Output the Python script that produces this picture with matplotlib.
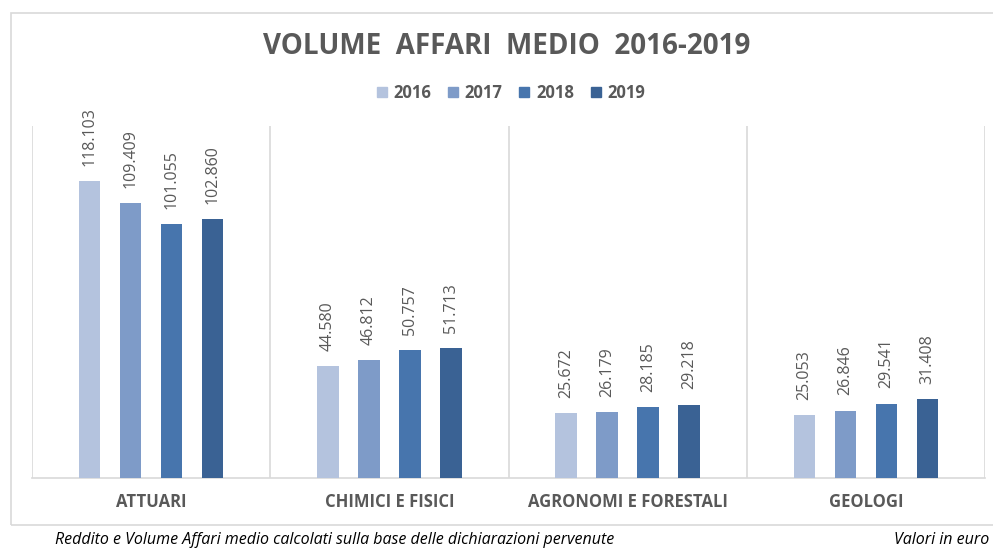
import matplotlib.pyplot as plt
from matplotlib.patches import Patch, Rectangle
import numpy as np

categories = ["ATTUARI", "CHIMICI E FISICI", "AGRONOMI E FORESTALI", "GEOLOGI"]
years = ["2016", "2017", "2018", "2019"]
v2016 = [118103, 44580, 25672, 25053]
v2017 = [109409, 46812, 26179, 26846]
v2018 = [101055, 50757, 28185, 29541]
v2019 = [102860, 51713, 29218, 31408]
series = [v2016, v2017, v2018, v2019]
colors = ["#B4C3DE", "#7E9BC8", "#4775AD", "#3A6294"]

plt.rcParams['font.family'] = ['Open Sans', 'DejaVu Sans']
gray = "#595959"
line = "#D9D9D9"

fig = plt.figure(figsize=(9.93, 5.49), dpi=100)
W, H = 993, 549

# outer chart frame
fig.patches.append(Rectangle((11 / W, 1 - 525 / H), 1.2, (525 - 13) / H,
                             transform=fig.transFigure, fill=False,
                             edgecolor=line, lw=1.2))

ax = fig.add_axes([32 / W, 1 - 478 / H, (985 - 32) / W, (478 - 126) / H])
x = np.arange(len(categories))
step, width = 0.172, 0.09
for i, (vals, c) in enumerate(zip(series, colors)):
    pos = x + (i - 1.5) * step
    ax.bar(pos, vals, width, color=c, zorder=3)
    for p, v in zip(pos, vals):
        ax.annotate(f"{v:,}".replace(",", "."), (p, v), xytext=(0, 11),
                    textcoords="offset points", rotation=90, ha="center",
                    va="bottom", fontsize=11.5, color=gray)

ax.set_xlim(-0.5, 3.5)
ax.set_ylim(0, 140000)
for b in np.arange(-0.5, 4, 1):
    ax.axvline(b, color=line, lw=1.2, zorder=1)
for s in ["top", "left", "right"]:
    ax.spines[s].set_visible(False)
ax.spines["bottom"].set_color(line)
ax.spines["bottom"].set_linewidth(1.2)
ax.set_yticks([])
ax.set_xticks(x)
ax.set_xticklabels(categories, fontsize=12, fontweight="bold", color=gray)
ax.tick_params(axis="x", length=0, pad=11)

fig.text(507 / W, 1 - 46 / H, "VOLUME  AFFARI  MEDIO  2016-2019", ha="center",
         va="center", fontsize=20, fontweight="bold", color=gray)

handles = [Patch(color=c) for c in colors]
fig.legend(handles, years, loc="center", bbox_to_anchor=(511 / W, 1 - 93 / H),
           ncol=4, frameon=False, handlelength=0.6, handleheight=0.6,
           handletextpad=0.4, columnspacing=1.0,
           prop={"size": 12, "weight": "bold"}, labelcolor=gray)

fig.text(55 / W, 1 - 540 / H,
         "Reddito e Volume Affari medio calcolati sulla base delle dichiarazioni pervenute",
         ha="left", va="center", fontsize=11.5, style="italic", color="black")
fig.text(989 / W, 1 - 540 / H, "Valori in euro", ha="right", va="center",
         fontsize=11.5, style="italic", color="black")

fig.savefig("out.png", dpi=100)
